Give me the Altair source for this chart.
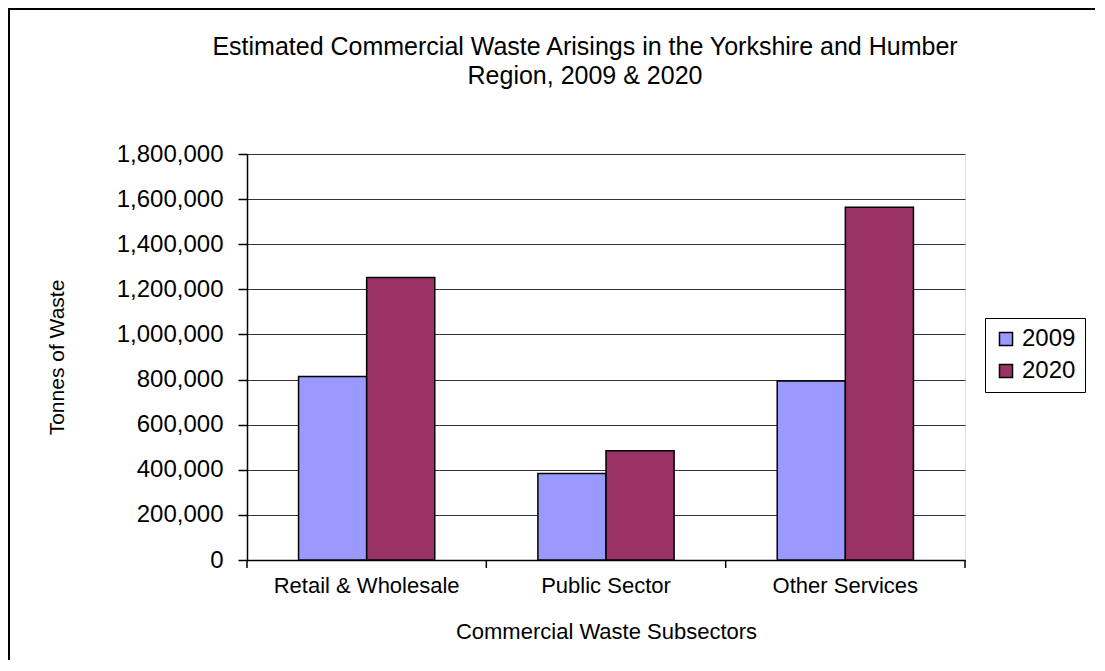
import altair as alt
import pandas as pd

categories = ["Retail & Wholesale", "Public Sector", "Other Services"]
years = ["2009", "2020"]
values_2009 = [813000, 384000, 794000]
values_2020 = [1252000, 484000, 1564000]
y_ticks = [0, 200000, 400000, 600000, 800000, 1000000, 1200000, 1400000, 1600000, 1800000]
colors = ["#9999FF", "#993366"]

rows = []
for c, a, b in zip(categories, values_2009, values_2020):
    rows.append({"cat": c, "year": "2009", "val": a})
    rows.append({"cat": c, "year": "2020", "val": b})
df = pd.DataFrame(rows)
cat_df = pd.DataFrame({"cat": categories})
one_df = pd.DataFrame({"k": [0]})

FONT = "Liberation Sans"

x_scale = alt.Scale(domain=categories, paddingInner=0, paddingOuter=0)

bars = alt.Chart(df).mark_bar(stroke="black", strokeWidth=1.5).encode(
    x=alt.X("cat:N", sort=categories, scale=x_scale,
            axis=alt.Axis(title="Commercial  Waste Subsectors", labelAngle=0,
                          labelFontSize=22, labelFont=FONT, labelColor="black",
                          labelPadding=15, labelLimit=1000, ticks=False,
                          domainColor="black", domainWidth=1.5,
                          grid=False, titleFontSize=22, titleFont=FONT,
                          titleFontWeight="normal", titleColor="black",
                          titleY=71, titleBaseline="middle")),
    xOffset=alt.XOffset("year:N", sort=years,
                        scale=alt.Scale(paddingInner=0, paddingOuter=0.757)),
    y=alt.Y("val:Q", scale=alt.Scale(domain=[0, 1800000], nice=False),
            axis=alt.Axis(title="Tonnes of Waste", values=y_ticks, format=",.0f",
                          labelFontSize=24, labelFont=FONT, labelColor="black",
                          labelPadding=15, tickSize=9, tickWidth=1.5, tickColor="black",
                          domainColor="black", domainWidth=1.5,
                          gridColor="#333333", gridWidth=1,
                          titleFontSize=21, titleFont=FONT, titleFontWeight="normal",
                          titleColor="black", titleAngle=270, titleX=-190, titleY=203,
                          titleAlign="center", titleBaseline="middle")),
    color=alt.Color("year:N", sort=years,
                    scale=alt.Scale(domain=years, range=colors),
                    legend=alt.Legend(title=None, orient="none", legendX=738, legendY=164,
                                      strokeColor="black", padding=9,
                                      symbolType="square", symbolSize=170,
                                      symbolStrokeColor="black", symbolStrokeWidth=1.5,
                                      labelFontSize=24, labelFont=FONT, labelColor="black",
                                      rowPadding=8, symbolOpacity=1)),
)

ticks_start = alt.Chart(cat_df).mark_rule(color="black", strokeWidth=1.5).encode(
    x=alt.X("cat:N", sort=categories, scale=x_scale, bandPosition=0),
    y=alt.value(406), y2=alt.value(414),
)

ticks_end = alt.Chart(cat_df).transform_filter(
    alt.datum.cat == categories[-1]
).mark_rule(color="black", strokeWidth=1.5).encode(
    x=alt.X("cat:N", sort=categories, scale=x_scale, bandPosition=1),
    y=alt.value(406), y2=alt.value(414),
)

# outer chart frame (top and left edges, as in the reference image)
frame_top = alt.Chart(one_df).mark_rule(color="black", strokeWidth=2).encode(
    x=alt.value(-239), x2=alt.value(860), y=alt.value(-145),
)
frame_left = alt.Chart(one_df).mark_rule(color="black", strokeWidth=2).encode(
    x=alt.value(-238), y=alt.value(-146), y2=alt.value(520),
)

chart = alt.layer(bars, ticks_start, ticks_end, frame_top, frame_left).properties(
    width=718,
    height=406,
    title=alt.TitleParams(
        text=["Estimated  Commercial  Waste Arisings in the Yorkshire and Humber",
              "Region, 2009 & 2020"],
        fontSize=25, font=FONT, fontWeight="normal", color="black",
        anchor="middle", frame="group", dx=-21, offset=-82, lineHeight=29),
    padding={"left": 239, "top": 146, "right": 130, "bottom": 100},
    autosize=alt.AutoSizeParams(type="none"),
).configure_view(stroke="black", strokeWidth=1.5).configure(background="white")

chart.save("out.html", embed_options={"renderer": "svg", "actions": False})
